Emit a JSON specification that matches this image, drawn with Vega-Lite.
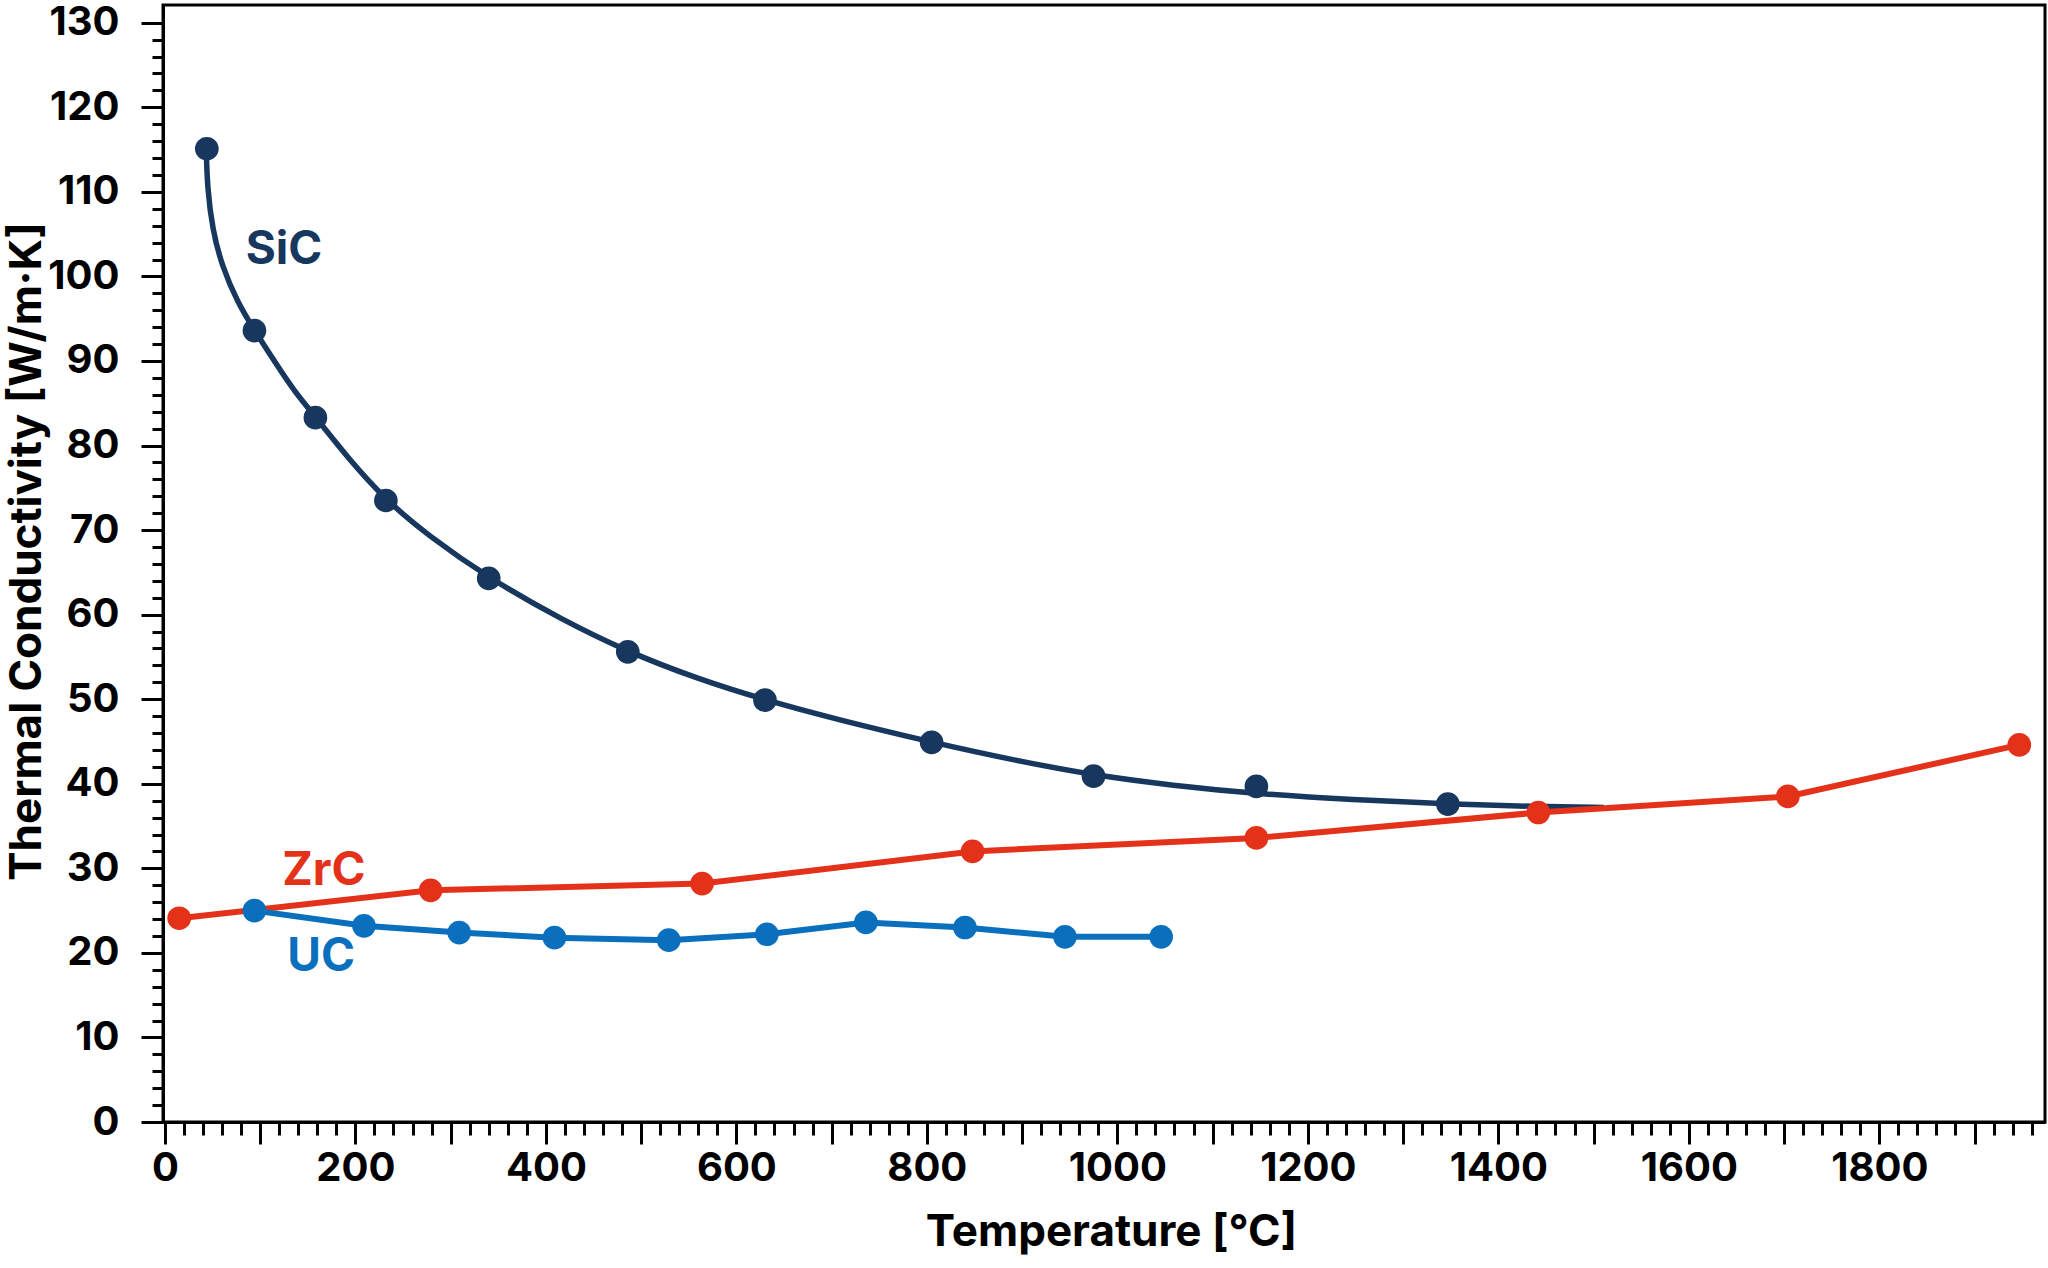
{
  "$schema": "https://vega.github.io/schema/vega-lite/v6.json",
  "width": 1882,
  "height": 1117,
  "autosize": {"type": "none"},
  "padding": {"left": 163, "top": 5, "right": 3, "bottom": 146},
  "background": "white",
  "config": {
    "view": {"stroke": "black", "strokeWidth": 3},
    "font": "Inter",
    "axis": {
      "labelFont": "Inter",
      "labelFontWeight": "bold",
      "labelFontSize": 40,
      "labelColor": "black",
      "titleFont": "Inter",
      "titleFontWeight": "bold",
      "titleFontSize": 44,
      "titleColor": "black",
      "domainColor": "black",
      "domainWidth": 3,
      "tickColor": "black",
      "tickWidth": 3,
      "grid": false,
      "labelOverlap": false,
      "labelBound": false,
      "labelFlush": false
    }
  },
  "datasets": {
    "pts": [
      {"series": "SiC", "x": 44, "y": 115.1},
      {"series": "SiC", "x": 94, "y": 93.6},
      {"series": "SiC", "x": 158, "y": 83.3},
      {"series": "SiC", "x": 232, "y": 73.5},
      {"series": "SiC", "x": 340, "y": 64.3},
      {"series": "SiC", "x": 486, "y": 55.6},
      {"series": "SiC", "x": 630, "y": 49.9},
      {"series": "SiC", "x": 805, "y": 44.9},
      {"series": "SiC", "x": 975, "y": 40.9},
      {"series": "SiC", "x": 1146, "y": 39.7},
      {"series": "SiC", "x": 1347, "y": 37.6},
      {"series": "ZrC", "x": 15, "y": 24.1},
      {"series": "ZrC", "x": 279, "y": 27.4},
      {"series": "ZrC", "x": 564, "y": 28.2},
      {"series": "ZrC", "x": 848, "y": 32.0},
      {"series": "ZrC", "x": 1146, "y": 33.6},
      {"series": "ZrC", "x": 1442, "y": 36.6},
      {"series": "ZrC", "x": 1704, "y": 38.5},
      {"series": "ZrC", "x": 1947, "y": 44.6},
      {"series": "UC", "x": 94, "y": 25.0},
      {"series": "UC", "x": 209, "y": 23.2},
      {"series": "UC", "x": 309, "y": 22.4},
      {"series": "UC", "x": 409, "y": 21.8},
      {"series": "UC", "x": 529, "y": 21.5},
      {"series": "UC", "x": 632, "y": 22.2},
      {"series": "UC", "x": 736, "y": 23.6},
      {"series": "UC", "x": 840, "y": 23.0},
      {"series": "UC", "x": 945, "y": 21.9},
      {"series": "UC", "x": 1046, "y": 21.9}
    ],
    "curve": [
      {"series": "SiC", "x": 43.4, "y": 115.2},
      {"series": "SiC", "x": 44.5, "y": 110.5},
      {"series": "SiC", "x": 50, "y": 105.5},
      {"series": "SiC", "x": 60, "y": 101.2},
      {"series": "SiC", "x": 76, "y": 97.0},
      {"series": "SiC", "x": 94.1, "y": 93.6},
      {"series": "SiC", "x": 116.6, "y": 89.7},
      {"series": "SiC", "x": 135.3, "y": 86.5},
      {"series": "SiC", "x": 158.8, "y": 83.3},
      {"series": "SiC", "x": 191.6, "y": 78.6},
      {"series": "SiC", "x": 232.3, "y": 73.5},
      {"series": "SiC", "x": 276, "y": 69.4},
      {"series": "SiC", "x": 340.2, "y": 64.3},
      {"series": "SiC", "x": 416.6, "y": 59.4},
      {"series": "SiC", "x": 486, "y": 55.6},
      {"series": "SiC", "x": 557, "y": 52.5},
      {"series": "SiC", "x": 630, "y": 49.9},
      {"series": "SiC", "x": 706, "y": 47.6},
      {"series": "SiC", "x": 805.5, "y": 44.9},
      {"series": "SiC", "x": 886.6, "y": 42.9},
      {"series": "SiC", "x": 975, "y": 41.0},
      {"series": "SiC", "x": 1058, "y": 39.8},
      {"series": "SiC", "x": 1146.7, "y": 38.8},
      {"series": "SiC", "x": 1247.8, "y": 38.1},
      {"series": "SiC", "x": 1347, "y": 37.6},
      {"series": "SiC", "x": 1437, "y": 37.3},
      {"series": "SiC", "x": 1511, "y": 37.2}
    ],
    "labels": [
      {"series": "SiC", "x": 125, "y": 103.1, "text": "SiC"},
      {"series": "ZrC", "x": 167, "y": 29.7, "text": "ZrC"},
      {"series": "UC", "x": 164, "y": 19.5, "text": "UC"}
    ]
  },
  "encoding": {
    "x": {
      "field": "x",
      "type": "quantitative",
      "scale": {"domain": [-2, 1974], "nice": false, "zero": false},
      "axis": {
        "title": "Temperature [°C]",
        "titlePadding": 22,
        "titleX": 948,
        "format": "d",
        "labelPadding": 4,
        "values": [0,20,40,60,80,100,120,140,160,180,200,220,240,260,280,300,320,340,360,380,400,420,440,460,480,500,520,540,560,580,600,620,640,660,680,700,720,740,760,780,800,820,840,860,880,900,920,940,960,980,1000,1020,1040,1060,1080,1100,1120,1140,1160,1180,1200,1220,1240,1260,1280,1300,1320,1340,1360,1380,1400,1420,1440,1460,1480,1500,1520,1540,1560,1580,1600,1620,1640,1660,1680,1700,1720,1740,1760,1780,1800,1820,1840,1860,1880,1900,1920,1940,1960],
        "labelExpr": "datum.value % 200 === 0 ? datum.label : ''",
        "tickSize": {"condition": {"test": "datum.value % 100 === 0", "value": 22}, "value": 13}
      }
    },
    "y": {
      "field": "y",
      "type": "quantitative",
      "scale": {"domain": [0, 132.1], "nice": false, "zero": false},
      "axis": {
        "title": "Thermal Conductivity [W/m·K]",
        "titlePadding": -2,
        "titleY": 546,
        "labelPadding": 22,
        "values": [0,2,4,6,8,10,12,14,16,18,20,22,24,26,28,30,32,34,36,38,40,42,44,46,48,50,52,54,56,58,60,62,64,66,68,70,72,74,76,78,80,82,84,86,88,90,92,94,96,98,100,102,104,106,108,110,112,114,116,118,120,122,124,126,128,130],
        "labelExpr": "datum.value % 10 === 0 ? datum.label : ''",
        "tickSize": {"condition": {"test": "datum.value % 10 === 0", "value": 22}, "value": 11}
      }
    },
    "color": {
      "field": "series",
      "type": "nominal",
      "scale": {"domain": ["SiC", "ZrC", "UC"], "range": ["#17375e", "#e4321a", "#0a6fbd"]},
      "legend": null
    }
  },
  "layer": [
    {
      "data": {"name": "curve"},
      "mark": {"type": "line", "strokeWidth": 5.5, "interpolate": "basis"},
      "encoding": {}
    },
    {
      "data": {"name": "pts"},
      "transform": [{"filter": "datum.series !== 'SiC'"}],
      "mark": {"type": "line", "strokeWidth": 6},
      "encoding": {"detail": {"field": "series"}}
    },
    {
      "data": {"name": "pts"},
      "mark": {"type": "circle", "size": 560, "opacity": 1},
      "encoding": {}
    },
    {
      "data": {"name": "labels"},
      "mark": {"type": "text", "font": "Inter", "fontWeight": "bold", "fontSize": 46, "align": "center", "baseline": "middle"},
      "encoding": {"text": {"field": "text"}}
    }
  ]
}
